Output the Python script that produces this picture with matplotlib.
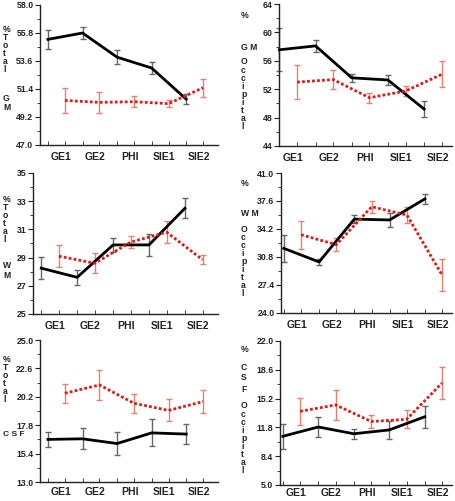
import matplotlib
matplotlib.use("Agg")
import matplotlib.pyplot as plt
import numpy as np

plt.rcParams['font.family'] = ['Liberation Sans', 'DejaVu Sans']
plt.rcParams['font.weight'] = 'bold'

categories = ["GE1", "GE2", "PHI", "SIE1", "SIE2"]

# Panel data: black series (group 1) and red series (group 2), means and error half-widths
gm_total_black = [55.3, 55.8, 53.9, 53.05, 50.6]
gm_total_black_err = [0.77, 0.5, 0.55, 0.45, 0.38]
gm_total_red = [50.5, 50.35, 50.4, 50.25, 51.5]
gm_total_red_err = [1.0, 0.82, 0.45, 0.3, 0.69]

gm_occ_black = [57.55, 58.1, 53.6, 53.3, 49.2]
gm_occ_black_err = [3.0, 0.9, 0.55, 0.65, 1.15]
gm_occ_red = [53.0, 53.35, 50.8, 51.75, 54.1]
gm_occ_red_err = [2.4, 1.35, 0.68, 0.75, 1.83]

wm_total_black = [28.25, 27.6, 29.9, 29.9, 32.5]
wm_total_black_err = [0.77, 0.53, 0.5, 0.8, 0.72]
wm_total_red = [29.1, 28.6, 30.1, 30.8, 28.85]
wm_total_red_err = [0.8, 0.7, 0.44, 0.78, 0.3]

wm_occ_black = [31.85, 30.2, 35.4, 35.3, 37.85]
wm_occ_black_err = [1.65, 0.4, 0.5, 0.9, 0.65]
wm_occ_red = [33.5, 32.3, 36.9, 35.9, 28.6]
wm_occ_red_err = [1.73, 0.77, 0.7, 1.0, 1.97]

csf_total_black = [16.6, 16.65, 16.25, 17.15, 17.05]
csf_total_black_err = [0.63, 0.9, 0.96, 1.14, 0.88]
csf_total_red = [20.5, 21.2, 19.65, 19.05, 19.8]
csf_total_red_err = [0.8, 1.24, 0.78, 0.93, 0.96]

csf_occ_black = [10.75, 11.85, 11.05, 11.5, 13.05]
csf_occ_black_err = [1.48, 1.18, 0.6, 1.05, 1.32]
csf_occ_red = [13.7, 14.45, 12.5, 12.75, 17.05]
csf_occ_red_err = [1.6, 1.75, 0.72, 1.07, 1.87]

gm_total_ticks = [47.0, 49.2, 51.4, 53.6, 55.8, 58.0]
gm_occ_ticks = [44, 48, 52, 56, 60, 64]
wm_total_ticks = [25, 27, 29, 31, 33, 35]
wm_occ_ticks = [24.0, 27.4, 30.8, 34.2, 37.6, 41.0]
csf_total_ticks = [13.0, 15.4, 17.8, 20.2, 22.6, 25.0]
csf_occ_ticks = [5.0, 8.4, 11.8, 15.2, 18.6, 22.0]

W, H = 456, 501
fig = plt.figure(figsize=(W / 100, H / 100), dpi=100)

BLACK_OFF = -0.37
RED_OFF = 0.12


def make_axes(x1, y1, x2, y2):
    return fig.add_axes([x1 / W, 1 - y2 / H, (x2 - x1) / W, (y2 - y1) / H])


def stack(xpx, y0, step, chars, size=6.2):
    for k, s in enumerate(chars):
        fig.text(xpx / W, 1 - (y0 + step * k) / H, s, ha='left', va='center',
                 fontsize=size, fontweight='bold', color='#222222')


def panel(rect, black, berr, red, rerr, ticks, fmt, xlim, xpad=5):
    ax = make_axes(*rect)
    x = np.arange(len(categories))
    xb = x + BLACK_OFF
    xr = x + RED_OFF
    ax.errorbar(xb, black, yerr=berr, fmt='none', ecolor='#666666',
                elinewidth=1.0, capsize=2.5, capthick=1.0, zorder=2,
                clip_on=False)
    ax.plot(xb, black, color='black', lw=2.0, zorder=3, clip_on=False)
    ax.errorbar(xr, red, yerr=rerr, fmt='none', ecolor='#e8806e',
                elinewidth=1.0, capsize=2.5, capthick=1.0, zorder=2,
                clip_on=False)
    ax.plot(xr, red, color='#e01818', lw=2.0, ls=(0, (1, 0.8)), zorder=4)
    ax.set_xlim(*xlim)
    ax.set_ylim(ticks[0], ticks[-1])
    ax.set_yticks(ticks)
    ax.set_yticklabels([fmt.format(t) for t in ticks])
    minor = [(ticks[i] + ticks[i + 1]) / 2 for i in range(len(ticks) - 1)]
    ax.set_yticks(minor, minor=True)
    ax.set_xticks(x)
    ax.set_xticklabels(categories)
    ax.set_xticks(np.concatenate([xb, xr]), minor=True)
    for s in ['top', 'right']:
        ax.spines[s].set_visible(False)
    for s in ['left', 'bottom']:
        ax.spines[s].set_linewidth(1.0)
        ax.spines[s].set_color('#222222')
    ax.tick_params(axis='y', which='major', direction='out', length=3.5,
                   width=0.8, labelsize=6.3, pad=1.2, colors='#222222')
    ax.tick_params(axis='y', which='minor', direction='out', length=2,
                   width=0.6, colors='#222222')
    ax.tick_params(axis='x', which='major', length=0, labelsize=7.5,
                   pad=xpad, colors='#222222')
    ax.tick_params(axis='x', which='minor', direction='in', length=3,
                   width=0.6, colors='#222222')
    for t in ax.get_xticklabels() + ax.get_yticklabels():
        t.set_fontweight('bold')
    return ax


LX = (-0.6, 4.55)
RX = (-0.45, 4.4)

panel((40, 5, 218, 145), gm_total_black, gm_total_black_err, gm_total_red,
      gm_total_red_err, gm_total_ticks, "{:.1f}", LX)
panel((279, 4, 452, 146), gm_occ_black, gm_occ_black_err, gm_occ_red,
      gm_occ_red_err, gm_occ_ticks, "{:.0f}", (-0.38, 4.4))
panel((33, 173, 218, 314), wm_total_black, wm_total_black_err, wm_total_red,
      wm_total_red_err, wm_total_ticks, "{:.0f}", LX)
panel((281, 173, 452, 313), wm_occ_black, wm_occ_black_err, wm_occ_red,
      wm_occ_red_err, wm_occ_ticks, "{:.1f}", RX)
panel((40, 340, 218, 482), csf_total_black, csf_total_black_err, csf_total_red,
      csf_total_red_err, csf_total_ticks, "{:.1f}", LX, xpad=3.5)
panel((280, 341, 452, 485), csf_occ_black, csf_occ_black_err, csf_occ_red,
      csf_occ_red_err, csf_occ_ticks, "{:.1f}", RX, xpad=2.5)

# stacked y-axis labels
stack(3, 30, 8, ["%", "T", "o", "t", "a", "l"])
stack(3, 98, 10, ["G", "M"])
stack(241, 16, 0, ["%"])
stack(241, 47, 0, ["G M"])
stack(241, 62, 8.1, ["O", "c", "c", "i", "p", "i", "t", "a", "l"])

stack(3, 199, 8.2, ["%", "T", "o", "t", "a", "l"])
stack(3, 265, 10, ["W", "M"])
stack(241, 184, 0, ["%"])
stack(241, 214, 0, ["W M"])
stack(241, 229, 8.1, ["O", "c", "c", "i", "p", "i", "t", "a", "l"])

stack(3, 359, 8.2, ["%", "T", "o", "t", "a", "l"])
stack(3, 435, 0, ["C S F"], size=6.0)
stack(241, 349, 0, ["%"])
stack(241, 367, 11, ["C", "S", "F"])
stack(241, 406, 8.1, ["O", "c", "c", "i", "p", "i", "t", "a", "l"])

fig.savefig("out.png", dpi=100)
